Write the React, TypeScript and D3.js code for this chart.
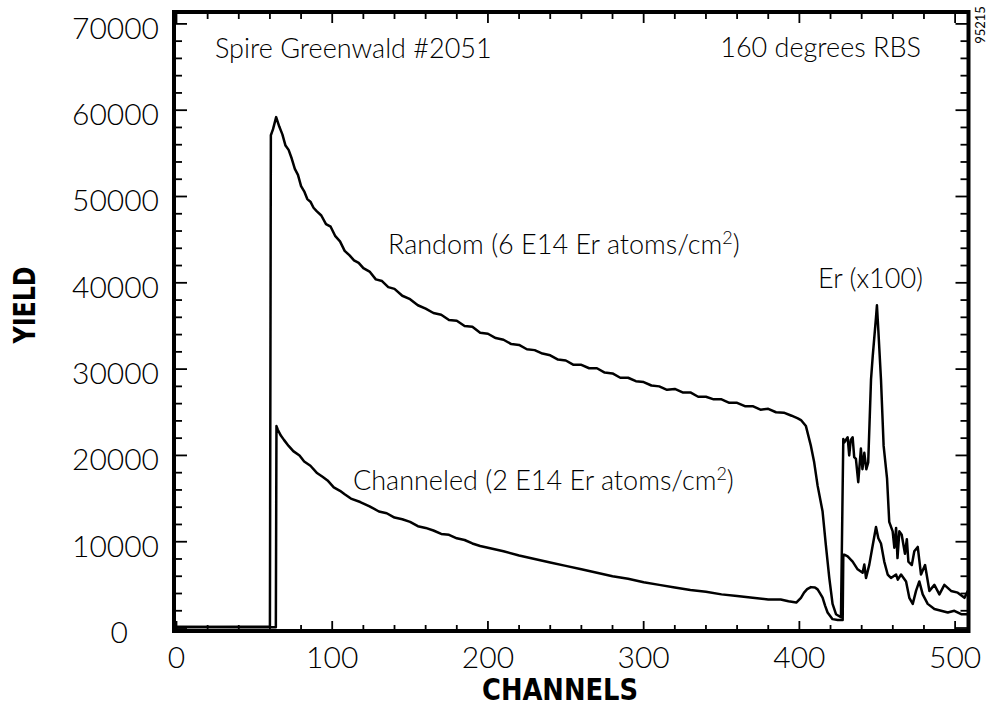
import React from "react";
import * as d3 from "d3";

// channel / yield pairs
const randomCh = [
  0, 20, 40, 60, 60.6, 62, 64, 66, 68, 70, 72, 74, 76, 78, 80, 82, 84, 86, 88, 90, 93, 96, 99, 102, 105, 108,
  111, 114, 117, 120, 124, 128, 132, 136, 140, 145, 150, 155, 160, 165, 170, 175, 180, 185, 190, 195, 200, 205,
  210, 215, 220, 225, 230, 235, 240, 245, 250, 255, 260, 265, 270, 275, 280, 285, 290, 295, 300, 305, 310, 315,
  320, 325, 330, 335, 340, 345, 350, 355, 360, 365, 370, 375, 380, 385, 390, 395, 399, 401, 404.2, 407.4, 409.5,
  411.7, 414.9, 417, 419.2, 421.3, 423.5, 426.7, 428.2, 428.8, 431, 432, 433, 434.2, 435.2, 436.3, 437.8, 439.5,
  440.5, 441.7, 443, 444.2, 446, 447.1, 449.2, 449.8, 450.7, 452.4, 454.1, 456.3, 457.7, 459.9, 461, 462.1, 463,
  464.2, 465.7, 467.8, 469, 470, 472.2, 473.8, 476, 478.1, 480.7, 483.5, 486.7, 489.9, 493.1, 497.4, 501.7, 506,
  508.2,
];
const randomYield = [
  150, 120, 160, 150, 57100, 57800, 59200, 58100, 57200, 55900, 55400, 54400, 53200, 52500, 51200, 50600, 49700,
  49400, 48700, 48300, 47800, 46800, 46500, 45400, 44800, 43700, 43200, 42600, 42300, 41700, 41300, 40400, 40200,
  39500, 39300, 38500, 38100, 37400, 37000, 36500, 36300, 35700, 35600, 35000, 34900, 34200, 34100, 33600, 33400,
  32900, 32800, 32300, 32200, 31800, 31600, 31100, 31000, 30500, 30500, 30100, 30100, 29600, 29500, 29000, 29000,
  28600, 28500, 28100, 28000, 27600, 27700, 27300, 27300, 26800, 26800, 26500, 26500, 26100, 26100, 25700, 25700,
  25300, 25400, 25000, 24950, 24600, 24300, 24100, 23400, 21100, 19200, 16500, 13500, 9600, 5800, 2800, 1600,
  1250, 21900, 21500, 22100, 20000, 21800, 22100, 19800, 19600, 16900, 20800, 18400, 20300, 18400, 19200, 28800,
  31500, 36000, 37400, 34500, 28800, 21100, 17300, 12300, 11200, 9300, 11600, 8100, 11200, 10800, 8600, 10300,
  7700, 7300, 8900, 9400, 6200, 7300, 4300, 5000, 3900, 5000, 4300, 4100, 3500, 4300,
];

const channeledCh = [
  0, 20, 40, 63.8, 64.2, 65, 67, 69, 72, 75, 79, 82, 86, 90, 94, 97, 101, 105, 108, 112, 118, 124, 130, 135, 140,
  145, 150, 155, 160, 165, 170, 175, 180, 185, 190, 195, 200, 210, 220, 230, 240, 250, 260, 270, 280, 290, 300,
  310, 320, 330, 340, 350, 360, 370, 380, 388, 393, 398, 401, 403, 405, 407.4, 410, 411.7, 413, 414.9, 416.5,
  418.1, 421.3, 424.6, 427.8, 428.2, 428.8, 431, 434.2, 437.4, 440.6, 441.7, 442.8, 444.9, 447.1, 449.2, 450.7,
  452.4, 454.5, 456.7, 458.8, 462.1, 463.2, 465.3, 468.5, 470.6, 472.8, 474.9, 477, 479.2, 482.4, 486.7, 491,
  495.3, 499.5, 503.9, 508.2,
];
const channeledYield = [
  100, 120, 100, 100, 23400, 23000, 22300, 21800, 21100, 20500, 20000, 19300, 18800, 18000, 17500, 17100, 16300,
  15900, 15500, 15000, 14600, 14100, 13500, 13300, 12800, 12600, 12300, 11800, 11600, 11300, 10900, 10800, 10400,
  10200, 9800, 9500, 9300, 8900, 8400, 8000, 7600, 7200, 6800, 6400, 6000, 5700, 5300, 5000, 4700, 4400, 4200,
  3900, 3700, 3500, 3300, 3300, 3100, 2950, 3500, 4100, 4500, 4740, 4700, 4480, 4100, 3520, 2600, 1800, 1030,
  920, 920, 8500, 8500, 8300, 7700, 6800, 6400, 7350, 5800, 7350, 9600, 11700, 10400, 9800, 7700, 6200, 5800,
  6200, 5600, 6200, 5400, 3500, 2800, 4300, 5400, 3900, 2800, 2200, 2000, 1800, 2000, 1600, 1600,
];

const yTicks = d3.range(0, 70001, 2000);
const xTicks = d3.range(0, 501, 20);
const yLabels = [0, 10000, 20000, 30000, 40000, 50000, 60000, 70000];
const xLabels = [0, 100, 200, 300, 400, 500];

const W = 991;
const H = 709;
const left = 174;
const right = 968.5;
const top = 12;
const bottom = 631;

const font = "Lato, 'Liberation Sans', sans-serif";
const heavy = "'DejaVu Sans Condensed', 'DejaVu Sans', sans-serif";

export default function App() {
  const x = d3.scaleLinear().domain([-1.6, 508.6]).range([left, right]);
  const y = d3.scaleLinear().domain([-344, 71377]).range([bottom, top]);

  const line = d3
    .line<[number, number]>()
    .x((d) => x(d[0]))
    .y((d) => y(d[1]));

  const randomPts = randomCh.map((c, i) => [c, randomYield[i]] as [number, number]);
  const channeledPts = channeledCh.map((c, i) => [c, channeledYield[i]] as [number, number]);

  return (
    <svg width={W} height={H} style={{ position: "absolute", left: 0, top: 0, background: "#fff" }}>
      <rect width={W} height={H} fill="#fff" />
      <defs>
        <clipPath id="plot">
          <rect x={left} y={top} width={right - left} height={bottom - top} />
        </clipPath>
      </defs>

      <g clipPath="url(#plot)">
        <path d={line(randomPts) || ""} fill="none" stroke="#000" strokeWidth={2.5} strokeLinejoin="round" />
        <path d={line(channeledPts) || ""} fill="none" stroke="#000" strokeWidth={2.5} strokeLinejoin="round" />
      </g>

      {/* ticks */}
      <g stroke="#000" strokeWidth={1.8}>
        {yTicks.map((t) => {
          const len = t % 10000 === 0 ? 13 : 8;
          return (
            <g key={"y" + t}>
              <line x1={left} x2={left + len} y1={y(t)} y2={y(t)} />
              <line x1={right} x2={right - len} y1={y(t)} y2={y(t)} />
            </g>
          );
        })}
        {xTicks.map((t) => {
          const major = t % 100 === 0;
          return (
            <g key={"x" + t}>
              <line x1={x(t)} x2={x(t)} y1={bottom} y2={bottom - (major ? 10 : 6)} />
              <line x1={x(t)} x2={x(t)} y1={top} y2={top + (major ? 11 : 7)} />
            </g>
          );
        })}
      </g>

      <rect x={left} y={top} width={right - left} height={bottom - top} fill="none" stroke="#000" strokeWidth={4} />

      {/* tick labels */}
      <g fontFamily={font} fontWeight={300} fontSize={30} fill="#000">
        {yLabels.map((t) => (
          <text key={"yl" + t} x={t === 0 ? 128 : 159} y={y(t) + 15} textAnchor="end">
            {t}
          </text>
        ))}
        {xLabels.map((t) => (
          <text key={"xl" + t} x={x(t)} y={668} textAnchor="middle">
            {t}
          </text>
        ))}
      </g>

      {/* axis titles */}
      <text
        x={560}
        y={700}
        textAnchor="middle"
        fontFamily={heavy}
        fontWeight="bold"
        fontSize={30}
        textLength={156}
        lengthAdjust="spacingAndGlyphs"
      >
        CHANNELS
      </text>
      <text
        transform="translate(35,305) rotate(-90)"
        textAnchor="middle"
        fontFamily={heavy}
        fontWeight="bold"
        fontSize={30}
        textLength={77}
        lengthAdjust="spacingAndGlyphs"
      >
        YIELD
      </text>

      {/* annotations */}
      <g fontFamily={font} fontWeight={300} fontSize={27} fill="#000">
        <text x={215} y={58}>Spire Greenwald #2051</text>
        <text x={921} y={57} textAnchor="end">
          160 degrees RBS
        </text>
        <text x={388} y={254}>
          Random (6 E14 Er atoms/cm<tspan dy={-10} fontSize={18}>2</tspan>
          <tspan dy={10}>)</tspan>
        </text>
        <text x={353} y={490}>
          Channeled (2 E14 Er atoms/cm<tspan dy={-10} fontSize={18}>2</tspan>
          <tspan dy={10}>)</tspan>
        </text>
        <text x={818} y={288}>Er (x100)</text>
      </g>
      <text transform="translate(985,25) rotate(-90)" textAnchor="middle" fontFamily={font} fontSize={13}>
        95215
      </text>
    </svg>
  );
}
